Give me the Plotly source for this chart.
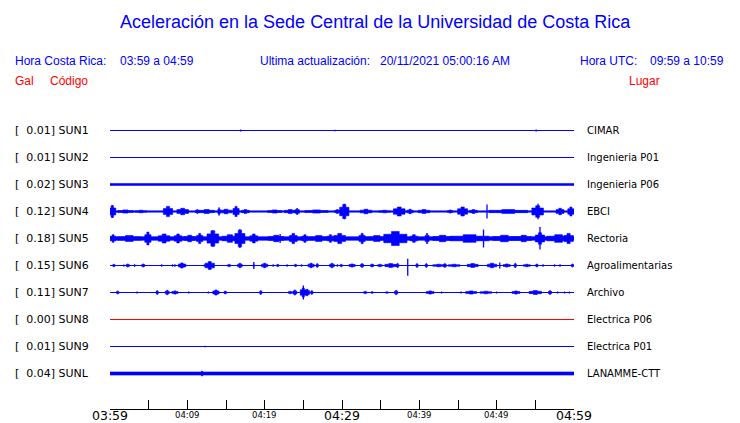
import plotly.graph_objects as go

# ---------------- data ----------------
stations = ["SUN1", "SUN2", "SUN3", "SUN4", "SUN5", "SUN6", "SUN7", "SUN8", "SUN9", "SUNL"]
peak_gal = [0.01, 0.01, 0.02, 0.12, 0.18, 0.15, 0.11, 0.00, 0.01, 0.04]
places = ["CIMAR", "Ingenieria P01", "Ingenieria P06", "EBCI", "Rectoria",
          "Agroalimentarias", "Archivo", "Electrica P06", "Electrica P01", "LANAMME-CTT"]
# background noise half-amplitude (Gal)
noise_gal = [0.0, 0.0, 0.014, 0.01, 0.028, 0.0, 0.0, 0.0, 0.0, 0.024]

# bursts: (minute after 03:59, half amplitude in Gal, duration in minutes)
sun1_bursts = []
sun2_bursts = []
sun3_bursts = []
sun4_bursts = [(0.3, 0.09, 0.9), (2.0, 0.025, 2.0), (4.0, 0.02, 1.5), (7.5, 0.08, 1.2), (9.4, 0.05, 1.5),
               (11.3, 0.03, 0.5), (12.5, 0.03, 2.0), (14.1, 0.06, 0.3), (15.0, 0.035, 1.5), (16.3, 0.08, 0.8),
               (17.5, 0.03, 1.0), (21.3, 0.025, 1.8), (23.3, 0.03, 1.5), (24.2, 0.045, 0.6), (26.7, 0.025, 3.0),
               (29.4, 0.03, 0.7), (30.3, 0.11, 1.2), (33.1, 0.035, 1.5), (35.5, 0.02, 1.5), (37.4, 0.07, 1.5),
               (38.8, 0.035, 0.8), (40.6, 0.03, 1.5), (44.0, 0.025, 0.7), (45.6, 0.07, 1.3), (47.0, 0.03, 1.0),
               (51.5, 0.03, 5.0), (55.3, 0.09, 1.5), (58.2, 0.05, 1.0), (59.6, 0.07, 0.8)]
sun5_bursts = [(0.4, 0.06, 0.7), (2.5, 0.045, 3.0), (4.9, 0.1, 0.8), (7.0, 0.07, 1.5), (8.8, 0.07, 1.0),
               (10.3, 0.05, 1.5), (11.6, 0.08, 0.8), (13.3, 0.12, 1.5), (15.5, 0.06, 2.0), (16.8, 0.13, 1.3),
               (18.6, 0.07, 1.0), (21.5, 0.05, 2.0), (23.7, 0.08, 1.0), (25.2, 0.06, 0.8), (27.0, 0.045, 2.5),
               (28.5, 0.06, 0.8), (29.7, 0.08, 1.5), (32.6, 0.08, 0.8), (34.5, 0.045, 2.5), (36.9, 0.11, 3.0),
               (39.3, 0.06, 1.0), (41.0, 0.08, 0.5), (43.0, 0.05, 2.5), (46.5, 0.06, 5.0), (51.0, 0.05, 3.0),
               (53.5, 0.05, 2.0), (55.6, 0.09, 1.2), (58.0, 0.06, 3.0), (59.3, 0.08, 1.2)]
sun6_bursts = [(0.5, 0.022, 0.3), (1.8, 0.012, 0.2), (2.3, 0.025, 0.4), (3.2, 0.018, 0.2), (4.3, 0.025, 0.4),
               (6.7, 0.015, 0.2), (8.1, 0.015, 0.2), (8.4, 0.015, 0.2), (9.3, 0.04, 0.9), (9.8, 0.015, 0.2),
               (12.2, 0.015, 0.2), (12.9, 0.06, 1.2), (15.4, 0.02, 0.4), (16.8, 0.035, 0.6), (18.6, 0.02, 0.2),
               (20.0, 0.035, 0.8), (21.1, 0.015, 0.2), (21.7, 0.02, 0.3), (22.9, 0.015, 0.2), (24.0, 0.02, 0.3),
               (24.8, 0.015, 0.2), (26.0, 0.035, 0.8), (26.8, 0.03, 0.3), (28.7, 0.035, 0.6), (29.4, 0.015, 0.2),
               (29.9, 0.02, 0.3), (31.3, 0.025, 0.8), (32.6, 0.03, 0.4), (33.9, 0.025, 0.4), (34.9, 0.02, 0.6),
               (36.3, 0.03, 1.5), (37.2, 0.035, 0.3), (39.7, 0.03, 0.3), (40.9, 0.03, 0.3), (42.5, 0.02, 1.5),
               (43.3, 0.03, 0.4), (44.5, 0.02, 1.5), (46.9, 0.03, 1.4), (49.4, 0.035, 1.2), (51.3, 0.025, 0.9),
               (52.4, 0.035, 0.3), (53.9, 0.02, 0.9), (55.2, 0.025, 0.3), (56.0, 0.015, 0.2), (57.5, 0.015, 0.2),
               (58.2, 0.015, 0.2), (59.8, 0.025, 0.3)]
sun7_bursts = [(1.0, 0.025, 0.3), (3.5, 0.012, 0.2), (6.1, 0.03, 0.3), (7.4, 0.035, 0.5), (8.4, 0.025, 0.8),
               (10.2, 0.012, 0.2), (12.7, 0.012, 0.2), (13.7, 0.04, 0.8), (14.9, 0.025, 0.3), (19.5, 0.03, 0.3),
               (23.3, 0.02, 0.5), (23.9, 0.04, 0.5), (25.0, 0.07, 0.8), (25.5, 0.05, 0.6), (26.1, 0.03, 0.3),
               (33.0, 0.02, 0.4), (33.9, 0.015, 0.3), (35.8, 0.012, 0.4), (37.0, 0.035, 0.4), (41.4, 0.025, 1.0),
               (42.9, 0.012, 0.2), (45.4, 0.012, 0.2), (46.7, 0.025, 1.4), (48.6, 0.02, 1.5), (50.0, 0.012, 0.2),
               (52.5, 0.025, 1.0), (55.0, 0.03, 1.6), (56.9, 0.03, 0.4), (57.9, 0.012, 0.2), (58.8, 0.012, 0.2),
               (59.4, 0.012, 0.2)]
sun8_bursts = []
sun9_bursts = []
sunl_bursts = [(11.9, 0.04, 0.3)]

# single-sample spikes: (minute, top Gal, bottom Gal)
sun1_spikes = [(16.9, 0.015, -0.015), (29.1, 0.012, -0.012), (55.1, 0.015, -0.015)]
sun2_spikes = []
sun3_spikes = []
sun4_spikes = [(0.3, 0.1, -0.1), (30.3, 0.12, -0.12), (48.75, 0.11, -0.11), (55.35, 0.12, -0.12)]
sun5_spikes = [(13.3, 0.13, -0.13), (16.8, 0.15, -0.15), (22.0, 0.07, -0.07), (48.3, 0.14, -0.14), (55.6, 0.18, -0.17)]
sun6_spikes = [(12.9, 0.065, -0.065), (18.6, 0.055, -0.055), (38.5, 0.105, -0.16), (50.4, 0.045, -0.045)]
sun7_spikes = [(25.0, 0.11, -0.11)]
sun8_spikes = []
sun9_spikes = [(12.3, 0.012, -0.012)]
sunl_spikes = []

all_bursts = [sun1_bursts, sun2_bursts, sun3_bursts, sun4_bursts, sun5_bursts,
              sun6_bursts, sun7_bursts, sun8_bursts, sun9_bursts, sunl_bursts]
all_spikes = [sun1_spikes, sun2_spikes, sun3_spikes, sun4_spikes, sun5_spikes,
              sun6_spikes, sun7_spikes, sun8_spikes, sun9_spikes, sunl_spikes]

window_minutes = 60
tick_minutes = list(range(0, 61, 5))
label_minutes = [0, 10, 20, 30, 40, 50, 60]
label_texts = ["03:59", "04:09", "04:19", "04:29", "04:39", "04:49", "04:59"]
label_major = [True, False, False, True, False, False, True]

# ---------------- layout constants ----------------
W, H = 740, 423
PX_PER_GAL = 64.0
ROW_PX = 27.0
FIRST_ROW_PX = 130.5
AXIS_PX = 409.0
SPACING = ROW_PX / PX_PER_GAL
y_range = [-(AXIS_PX - FIRST_ROW_PX) / PX_PER_GAL, FIRST_ROW_PX / PX_PER_GAL]
BLUE = "#0000ff"
RED = "#ff0000"


def burst_shape(t, a, d, c):
    lo = 0.6 * a
    xs = [t - d / 2, t - d / 2, t - d / 6, t - d / 6, t + d / 6, t + d / 6, t + d / 2, t + d / 2,
          t + d / 6, t + d / 6, t - d / 6, t - d / 6, t - d / 2, None]
    ys = [c - lo, c + lo, c + lo, c + a, c + a, c + lo, c + lo, c - lo,
          c - lo, c - a, c - a, c - lo, c - lo, None]
    return xs, ys


fig = go.Figure()
for i, name in enumerate(stations):
    c = -i * SPACING
    col = RED if name == "SUN8" else BLUE
    fig.add_trace(go.Scatter(x=[0, window_minutes], y=[c, c], mode="lines",
                             line=dict(color=col, width=1), hoverinfo="skip", showlegend=False))
    px, py = [], []
    b = noise_gal[i]
    if b > 0:
        px += [0, 0, window_minutes, window_minutes, 0, None]
        py += [c - b, c + b, c + b, c - b, c - b, None]
    for (t, a, d) in all_bursts[i]:
        xs, ys = burst_shape(t, a, d, c)
        px += xs
        py += ys
    if px:
        fig.add_trace(go.Scatter(x=px, y=py, mode="lines", fill="toself", fillcolor=col,
                                 line=dict(color=col, width=0.6), hoverinfo="skip", showlegend=False))
    sx, sy = [], []
    for (t, top, bot) in all_spikes[i]:
        sx += [t, t, None]
        sy += [c + top, c + bot, None]
    if sx:
        fig.add_trace(go.Scatter(x=sx, y=sy, mode="lines", line=dict(color=col, width=1.3),
                                 hoverinfo="skip", showlegend=False))

NOPAD = dict(borderpad=0, borderwidth=0, showarrow=False)
annotations = []
for i, name in enumerate(stations):
    c = -i * SPACING
    annotations.append(dict(x=15 / W, xref="paper", y=c, yref="y", xanchor="left", yanchor="middle",
                            text="[\u00a0\u00a0%.2f] %s" % (peak_gal[i], name),
                            font=dict(family="DejaVu Sans", size=11, color="black"), **NOPAD))
    annotations.append(dict(x=587 / W, xref="paper", y=c, yref="y", xanchor="left", yanchor="middle",
                            text=places[i],
                            font=dict(family="DejaVu Sans", size=10, color="black"), **NOPAD))

for m, txt, major in zip(label_minutes, label_texts, label_major):
    annotations.append(dict(x=m, xref="x", y=0, yref="paper", xanchor="center", yanchor="top",
                            text=txt, yshift=1 if major else -1,
                            font=dict(family="DejaVu Sans", size=12.5 if major else 8.5, color="black"),
                            **NOPAD))


def ppy(ypx):
    return (AXIS_PX - ypx) / AXIS_PX


header = [
    ("Hora Costa Rica:", 15, 61, BLUE), ("03:59 a 04:59", 120, 61, BLUE),
    ("Ultima actualización:", 260, 61, BLUE), ("20/11/2021 05:00:16 AM", 380, 61, BLUE),
    ("Hora UTC:", 580, 61, BLUE), ("09:59 a 10:59", 650, 61, BLUE),
    ("Gal", 15, 81, RED), ("Código", 50, 81, RED), ("Lugar", 629, 81, RED),
]
for txt, xp, yp, col in header:
    annotations.append(dict(x=xp / W, xref="paper", y=ppy(yp), yref="paper", xanchor="left",
                            yanchor="middle", text=txt,
                            font=dict(family="Liberation Sans", size=12, color=col), **NOPAD))

annotations.append(dict(x=375 / W, xref="paper", y=ppy(22), yref="paper", xanchor="center",
                        yanchor="middle",
                        text="Aceleración en la Sede Central de la Universidad de Costa Rica",
                        font=dict(family="Liberation Sans", size=18, color=BLUE), **NOPAD))

fig.update_layout(
    width=W, height=H, margin=dict(l=0, r=0, t=0, b=int(H - AXIS_PX), pad=0),
    paper_bgcolor="white", plot_bgcolor="white", showlegend=False,
    xaxis=dict(domain=[110 / W, 574 / W], range=[0, window_minutes], showgrid=False, zeroline=False,
               tickmode="array", tickvals=tick_minutes, ticks="inside", ticklen=9, tickwidth=1,
               tickcolor="black", showticklabels=False, showline=True, linecolor="black",
               linewidth=1, fixedrange=True),
    yaxis=dict(domain=[0, 1], range=y_range, visible=False, fixedrange=True),
    annotations=annotations,
)

fig.write_html("out.html", config={"displayModeBar": False},
               post_script="document.body.style.margin='0';document.body.style.overflow='hidden';")
